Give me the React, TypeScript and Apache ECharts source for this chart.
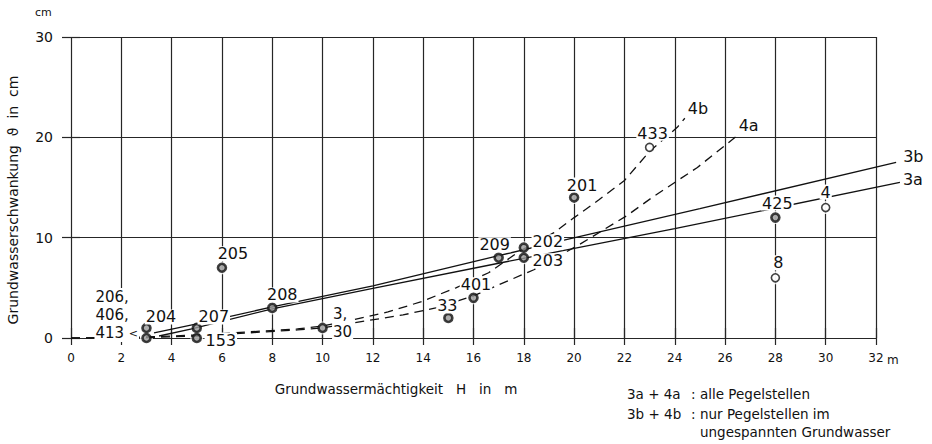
import React, { useEffect, useRef } from "react";
import * as echarts from "echarts";

// ---- data ----
const xTickInterval = 2; // Grundwassermächtigkeit H in m
const yTickInterval = 10; // Grundwasserschwankung in cm

const filledNames = ["204", "206,\n406,\n413", "207", "153", "205", "208", "3,\n30", "33", "401", "209", "202", "203", "201", "425"];
const filledX = [3, 3, 5, 5, 6, 8, 10, 15, 16, 17, 18, 18, 20, 28];
const filledY = [1, 0, 1, 0, 7, 3, 1, 2, 4, 8, 9, 8, 14, 12];

const openNames = ["433", "8", "4"];
const openX = [23, 28, 30];
const openY = [19, 6, 13];

const line3b = [[3.3, 0.5], [5, 1.4], [8, 3.1], [12, 5.2], [17, 8.2], [19.6, 9.75], [25, 12.9], [32.8, 17.5]];
const line3a = [[3.5, 0.2], [4.8, 0.9], [8, 2.9], [12, 4.95], [17, 7.45], [19.55, 8.7], [24, 10.9], [32.95, 15.5]];
const line4b = [[0, 0], [3, 0.1], [5, 0.3], [7, 0.6], [9, 0.9], [10, 1.2], [11.2, 1.8], [12.6, 2.6], [13.9, 3.6], [15.3, 5.0], [16.6, 6.5], [17.8, 8.6], [19.2, 10.5], [20, 12], [21, 13.8], [22, 15.7], [23, 18.6], [24.1, 21], [24.4, 21.9]];
const line4a = [[0, 0], [3, 0.05], [5, 0.2], [7, 0.5], [9, 0.8], [10, 1.0], [11.2, 1.5], [13.2, 2.3], [14.5, 3.0], [16, 4.2], [17, 5.3], [18.4, 6.8], [20.2, 9.3], [22.1, 12.2], [23.1, 14.0], [24.9, 17.0], [26.5, 20.2]];

const lineNames = ["3b", "3a", "4b", "4a"];

// ---- styles (label placement) ----
const FONT = "DejaVu Sans";
const INK = "#111111";

const labelPlacement: Record<string, { offset: number[]; align?: string; arrow?: boolean; size?: number; lh?: number }> = {
  "204": { offset: [14.5, -11] },
  "206,\n406,\n413": { offset: [-52, -23], align: "left", arrow: true, size: 15, lh: 18 },
  "207": { offset: [17, -11] },
  "153": { offset: [24, 2] },
  "205": { offset: [11, -14] },
  "208": { offset: [10, -13] },
  "3,\n30": { offset: [9.5, -5], align: "left", size: 15, lh: 18 },
  "33": { offset: [-1, -12] },
  "401": { offset: [2.5, -13] },
  "209": { offset: [-4, -13] },
  "202": { offset: [24, -6] },
  "203": { offset: [24, 3] },
  "201": { offset: [8, -12.5] },
  "425": { offset: [2, -14.5] },
  "433": { offset: [3, -14] },
  "8": { offset: [3, -15] },
  "4": { offset: [0, -15.5] },
};

const endLabelOffset: Record<string, number[]> = {
  "3b": [7, -6],
  "3a": [3, -3],
  "4b": [3, -10],
  "4a": [1, -10],
};

function buildItems(names: string[], xs: number[], ys: number[]) {
  return names.map((n, i) => {
    const p = labelPlacement[n] || { offset: [0, -14] };
    return {
      name: n,
      value: [xs[i], ys[i]],
      label: {
        offset: p.offset,
        align: p.align || "center",
        lineHeight: p.lh || 15,
        fontSize: p.size || 16,
        formatter: p.arrow ? n + " {s|<}" : n,
      },
    };
  });
}

const baseLabel = {
  show: true,
  position: ["50%", "50%"],
  verticalAlign: "middle",
  fontFamily: FONT,
  fontSize: 16,
  lineHeight: 15,
  color: INK,
  opacity: 1,
  textBorderWidth: 0,
  backgroundColor: "#fff",
  padding: [0, 1],
  rich: {
    s: { fontFamily: FONT, fontSize: 11, lineHeight: 18, color: INK },
  },
};

export default function App() {
  const ref = useRef<HTMLDivElement>(null);

  useEffect(() => {
    if (!ref.current) return;
    const chart = echarts.init(ref.current, undefined, { renderer: "svg" });

    const gridLine = { color: "#262626", width: 1.2 };
    const lines = [line3b, line3a, line4b, line4a];
    const pxPerUnit = 805 / 32;
    const dataMaxX = 34;

    const option: any = {
      animation: false,
      backgroundColor: "#fff",
      grid: [
        { left: 71, top: 37, width: 805, height: 301, containLabel: false },
        // same scale, wider extent: lets the fitted lines run past 32 m without clipping
        { left: 71, top: 37, width: pxPerUnit * dataMaxX, height: 301, containLabel: false },
      ],
      xAxis: [
        {
          type: "value",
          gridIndex: 0,
          min: 0,
          max: 32,
          interval: xTickInterval,
          position: "bottom",
          axisLine: { show: false },
          axisTick: { show: true, length: 7, lineStyle: gridLine },
          axisLabel: { margin: 14, fontFamily: FONT, fontSize: 12, color: INK },
          splitLine: { show: true, lineStyle: gridLine },
        },
        {
          type: "value",
          gridIndex: 0,
          min: 0,
          max: 32,
          interval: xTickInterval,
          position: "top",
          axisLine: { show: false },
          axisTick: { show: true, length: 10, lineStyle: gridLine },
          axisLabel: { show: false },
          splitLine: { show: false },
        },
        { type: "value", gridIndex: 1, min: 0, max: dataMaxX, show: false },
      ],
      yAxis: [
        {
          type: "value",
          gridIndex: 0,
          min: 0,
          max: 30,
          interval: yTickInterval,
          position: "left",
          axisLine: { show: false },
          axisTick: { show: true, length: 9, lineStyle: gridLine },
          axisLabel: { margin: 18, fontFamily: FONT, fontSize: 14, color: INK },
          splitLine: { show: true, lineStyle: gridLine },
        },
        {
          type: "value",
          gridIndex: 0,
          min: 0,
          max: 30,
          interval: yTickInterval,
          position: "right",
          axisLine: { show: false },
          axisTick: { show: true, length: 9, lineStyle: gridLine },
          axisLabel: { show: false },
          splitLine: { show: false },
        },
        { type: "value", gridIndex: 1, min: 0, max: 30, show: false },
      ],
      series: [
        {
          type: "scatter",
          xAxisIndex: 2,
          yAxisIndex: 2,
          silent: true,
          z: 1,
          symbolSize: 13,
          itemStyle: { color: "#fff" },
          data: [
            ...filledX.map((x, i) => [x, filledY[i]]),
            ...openX.map((x, i) => [x, openY[i]]),
          ],
        },
        ...lines.map((pts, i) => ({
          type: "line",
          name: lineNames[i],
          xAxisIndex: 2,
          yAxisIndex: 2,
          z: 2,
          clip: false,
          showSymbol: false,
          symbol: "none",
          silent: true,
          data: pts,
          lineStyle: {
            color: INK,
            width: 1.3,
            type: i < 2 ? "solid" : [9, 6],
          },
          endLabel: {
            show: true,
            formatter: lineNames[i],
            distance: 0,
            align: "left",
            verticalAlign: "middle",
            offset: endLabelOffset[lineNames[i]],
            fontFamily: FONT,
            fontSize: 16,
            color: INK,
          },
        })),
        {
          type: "scatter",
          xAxisIndex: 2,
          yAxisIndex: 2,
          z: 3,
          silent: true,
          symbol: "circle",
          symbolSize: 8,
          itemStyle: { color: "#9a9a9a", borderColor: INK, borderWidth: 2.6 },
          label: baseLabel,
          data: buildItems(filledNames, filledX, filledY),
        },
        {
          type: "scatter",
          xAxisIndex: 2,
          yAxisIndex: 2,
          z: 3,
          silent: true,
          symbol: "circle",
          symbolSize: 8,
          itemStyle: { color: "#fff", borderColor: INK, borderWidth: 1.6 },
          label: baseLabel,
          data: buildItems(openNames, openX, openY),
        },
      ],
      graphic: [
        { type: "text", left: 35, top: 7, style: { text: "cm", font: `11px '${FONT}'`, fill: INK } },
        { type: "text", x: 887, y: 360, style: { text: "m", font: `12px '${FONT}'`, fill: INK, verticalAlign: "middle" } },
        {
          type: "text",
          x: 13,
          y: 200,
          rotation: Math.PI / 2,
          style: {
            text: "Grundwasserschwankung  ϑ  in  cm",
            font: `14px '${FONT}'`,
            fill: INK,
            align: "center",
            verticalAlign: "middle",
          },
        },
        {
          type: "text",
          x: 396,
          y: 389,
          style: {
            text: "Grundwassermächtigkeit   H   in   m",
            font: `13.5px '${FONT}'`,
            fill: INK,
            align: "center",
            verticalAlign: "middle",
          },
        },
        { type: "text", x: 627, y: 394, style: { text: "3a + 4a", font: `13.5px '${FONT}'`, fill: INK, verticalAlign: "middle" } },
        { type: "text", x: 691, y: 394, style: { text: ":", font: `13.5px '${FONT}'`, fill: INK, verticalAlign: "middle" } },
        { type: "text", x: 700, y: 394, style: { text: "alle Pegelstellen", font: `13.5px '${FONT}'`, fill: INK, verticalAlign: "middle" } },
        { type: "text", x: 627, y: 414, style: { text: "3b + 4b", font: `13.5px '${FONT}'`, fill: INK, verticalAlign: "middle" } },
        { type: "text", x: 691, y: 414, style: { text: ":", font: `13.5px '${FONT}'`, fill: INK, verticalAlign: "middle" } },
        { type: "text", x: 700, y: 414, style: { text: "nur Pegelstellen im", font: `13.5px '${FONT}'`, fill: INK, verticalAlign: "middle" } },
        { type: "text", x: 700, y: 432, style: { text: "ungespannten Grundwasser", font: `13.5px '${FONT}'`, fill: INK, verticalAlign: "middle" } },
      ],
    };

    chart.setOption(option);
    return () => chart.dispose();
  }, []);

  return <div ref={ref} style={{ width: 932, height: 444, position: "absolute", left: 0, top: 0 }} />;
}
